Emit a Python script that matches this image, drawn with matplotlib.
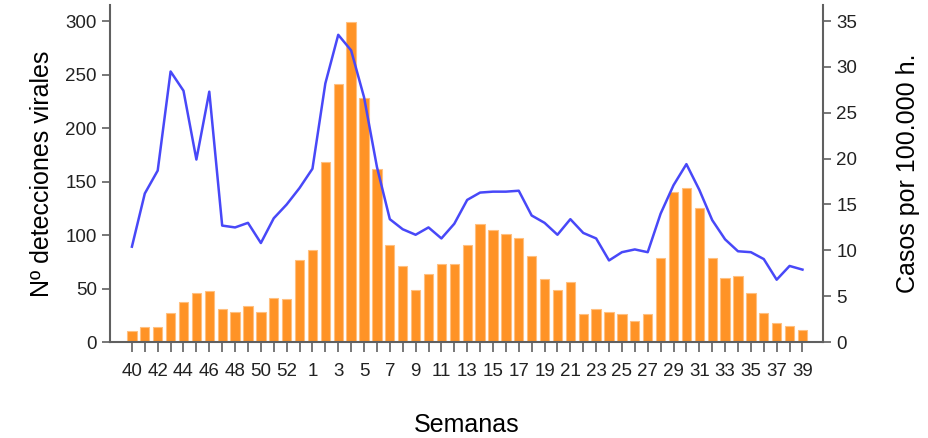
import matplotlib.pyplot as plt

# semanas epidemiológicas (temporada con semana 53)
semanas = list(range(40, 54)) + list(range(1, 40))

detecciones = [10, 14, 14, 27, 37, 46, 48, 31, 28, 34, 28, 41, 40, 77,
               86, 168, 241, 299, 228, 162, 91, 71, 49, 64, 73, 73, 91,
               110, 105, 101, 97, 80, 59, 49, 56, 26, 31, 28, 26, 20,
               26, 79, 140, 144, 125, 79, 60, 62, 46, 27, 18, 15, 11]

tasa = [10.4, 16.2, 18.7, 29.5, 27.4, 19.9, 27.3, 12.7, 12.5, 13.0, 10.8,
        13.5, 15.0, 16.8, 18.9, 28.2, 33.5, 31.8, 26.7, 19.1, 13.4, 12.3,
        11.7, 12.5, 11.3, 12.9, 15.5, 16.3, 16.4, 16.4, 16.5, 13.8, 13.0,
        11.7, 13.4, 11.9, 11.3, 8.9, 9.8, 10.1, 9.8, 14.0, 17.1, 19.4,
        16.6, 13.3, 11.2, 9.9, 9.8, 9.05, 6.8, 8.3, 7.9]

plt.rcParams['font.family'] = ['Liberation Sans', 'DejaVu Sans']
gris = '#606060'

fig = plt.figure(figsize=(9.29, 4.38), dpi=100)
ax = fig.add_axes([0.1184, 0.219, 0.7676, 0.7696])
x = list(range(len(semanas)))
ax.bar(x, detecciones, width=0.72, color='#FF9326', edgecolor='#FFC080',
       linewidth=0.8, zorder=2)
ax.set_xlim(-1.7, 53.6)
ax.set_ylim(0, 315)
ax.set_yticks([0, 50, 100, 150, 200, 250, 300])
ax.set_xticks(x)
ax.set_xticklabels([str(s) if i % 2 == 0 else '' for i, s in enumerate(semanas)])
ax.set_ylabel('Nº detecciones virales', fontsize=18, labelpad=8)
ax.set_xlabel('Semanas', fontsize=18, labelpad=24)

ax2 = ax.twinx()
ax2.plot(x, tasa, color='#4848F8', lw=1.8, zorder=3)
ax2.set_ylim(0, 36.75)
ax2.set_yticks([0, 5, 10, 15, 20, 25, 30, 35])
ax2.set_ylabel('Casos por 100.000 h.', fontsize=18, labelpad=28)

for a in (ax, ax2):
    a.spines['top'].set_visible(False)
    for s in ('left', 'right', 'bottom'):
        a.spines[s].set_color(gris)
        a.spines[s].set_linewidth(1.5)
    a.tick_params(colors=gris, labelcolor='#222222', labelsize=13.5,
                  length=6, width=1.2)
ax.tick_params(axis='x', length=7, pad=8, labelsize=13.5)
ax.spines['right'].set_visible(False)
ax2.spines['left'].set_visible(False)
ax2.spines['bottom'].set_visible(False)

fig.savefig('out.png', dpi=100)
